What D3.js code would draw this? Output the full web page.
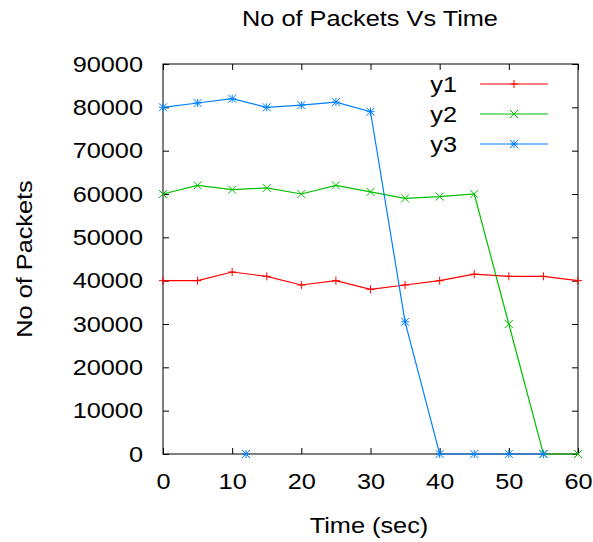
<!DOCTYPE html>
<html>
<head>
<meta charset="utf-8">
<script src="https://cdn.jsdelivr.net/npm/d3@7"></script>
<style>
  body { margin: 0; background: #fff; }
  text { font-family: "Liberation Sans", Arial, sans-serif; fill: #000; }
</style>
</head>
<body>
<div id="chart"></div>
<script>
// data
const times = [0, 5, 10, 15, 20, 25, 30, 35, 40, 45, 50, 55, 60];
const y1 = [40000, 40000, 42000, 41000, 39000, 40000, 38000, 39000, 40000, 41500, 41000, 41000, 40000];
const y2 = [60000, 62000, 61000, 61400, 60000, 62000, 60500, 59000, 59400, 60000, 30000, 0, 0];
const y3 = [80000, 81000, 82000, 80000, 80500, 81200, 79000, 30500, 0, 0, 0, 0, null];
const y3Extra = [[12, 0]]; // stray point with no line
const xTicks = [0, 10, 20, 30, 40, 50, 60];
const yTicks = [0, 10000, 20000, 30000, 40000, 50000, 60000, 70000, 80000, 90000];

const W = 593, H = 542;
const margin = { top: 64, right: 15, bottom: 88, left: 163 };
const fs = "22px";

const svg = d3.select("#chart").append("svg")
    .attr("width", W)
    .attr("height", H);

const x = d3.scaleLinear().domain([0, 60]).range([margin.left, W - margin.right]);
const y = d3.scaleLinear().domain([0, 90000]).range([H - margin.bottom, margin.top]);

// frame
svg.append("rect")
    .attr("x", x(0)).attr("y", y(90000))
    .attr("width", x(60) - x(0)).attr("height", y(0) - y(90000))
    .attr("fill", "none").attr("stroke", "#000").attr("stroke-width", 1);

// ticks, inward on all four sides (gnuplot style)
const tl = 6;
svg.append("g")
    .attr("transform", `translate(0,${y(0)})`)
    .call(d3.axisBottom(x).tickValues(xTicks).tickSizeInner(-tl).tickSizeOuter(0).tickPadding(19))
    .call(g => g.select(".domain").remove())
    .call(g => g.selectAll("text").style("font-size", fs).attr("font-family", null));
svg.append("g")
    .attr("transform", `translate(0,${y(90000)})`)
    .call(d3.axisTop(x).tickValues(xTicks).tickSizeInner(-tl).tickSizeOuter(0).tickFormat(""))
    .call(g => g.select(".domain").remove());
svg.append("g")
    .attr("transform", `translate(${x(0)},0)`)
    .call(d3.axisLeft(y).tickValues(yTicks).tickSizeInner(-tl).tickSizeOuter(0).tickPadding(20).tickFormat(d3.format("d")))
    .call(g => g.select(".domain").remove())
    .call(g => g.selectAll("text").style("font-size", fs).attr("font-family", null));
svg.append("g")
    .attr("transform", `translate(${x(60)},0)`)
    .call(d3.axisRight(y).tickValues(yTicks).tickSizeInner(-tl).tickSizeOuter(0).tickFormat(""))
    .call(g => g.select(".domain").remove());

// titles
svg.append("text")
    .attr("x", 370).attr("y", 26)
    .attr("text-anchor", "middle")
    .style("font-size", fs)
    .text("No of Packets Vs Time");
svg.append("text")
    .attr("x", 369).attr("y", 533)
    .attr("text-anchor", "middle")
    .style("font-size", fs)
    .text("Time (sec)");
svg.append("text")
    .attr("transform", `translate(32,${y(45000)}) rotate(-90)`)
    .attr("text-anchor", "middle")
    .style("font-size", fs)
    .text("No of Packets");

// markers
const ms = 4;
function marker(g, kind, color) {
    const p = d3.path();
    if (kind === "plus" || kind === "star") {
        p.moveTo(-ms, 0); p.lineTo(ms, 0);
        p.moveTo(0, -ms); p.lineTo(0, ms);
    }
    if (kind === "cross" || kind === "star") {
        p.moveTo(-ms, -ms); p.lineTo(ms, ms);
        p.moveTo(-ms, ms); p.lineTo(ms, -ms);
    }
    g.append("path").attr("d", p.toString())
        .attr("stroke", color).attr("stroke-width", 1).attr("fill", "none");
}

const series = [
    { name: "y1", values: y1, color: "#ff0000", kind: "plus" },
    { name: "y2", values: y2, color: "#00c000", kind: "cross" },
    { name: "y3", values: y3, color: "#0080ff", kind: "star" }
];

const line = d3.line()
    .x(d => x(d[0]))
    .y(d => y(d[1]));

series.forEach(s => {
    const pts = times.map((t, i) => [t, s.values[i]]).filter(d => d[1] !== null);
    svg.append("path")
        .datum(pts)
        .attr("d", line)
        .attr("fill", "none")
        .attr("stroke", s.color)
        .attr("stroke-width", 1.2);
    pts.forEach(d => {
        const g = svg.append("g").attr("transform", `translate(${x(d[0])},${y(d[1])})`);
        marker(g, s.kind, s.color);
    });
});

y3Extra.forEach(d => {
    const g = svg.append("g").attr("transform", `translate(${x(d[0])},${y(d[1])})`);
    marker(g, "star", "#0080ff");
});

// legend
series.forEach((s, i) => {
    const ly = 84 + i * 30;
    svg.append("text")
        .attr("x", 457).attr("y", ly + 8)
        .attr("text-anchor", "end")
        .style("font-size", fs)
        .text(s.name);
    svg.append("line")
        .attr("x1", 480).attr("x2", 548).attr("y1", ly).attr("y2", ly)
        .attr("stroke", s.color).attr("stroke-width", 1.2);
    const g = svg.append("g").attr("transform", `translate(514,${ly})`);
    marker(g, s.kind, s.color);
});

// the reference font is a bit wider than Liberation Sans: stretch each text
svg.selectAll("text").each(function () {
    const len = this.getComputedTextLength();
    if (len > 0) {
        d3.select(this)
            .attr("textLength", len * 1.15)
            .attr("lengthAdjust", "spacingAndGlyphs");
    }
});
</script>
</body>
</html>
